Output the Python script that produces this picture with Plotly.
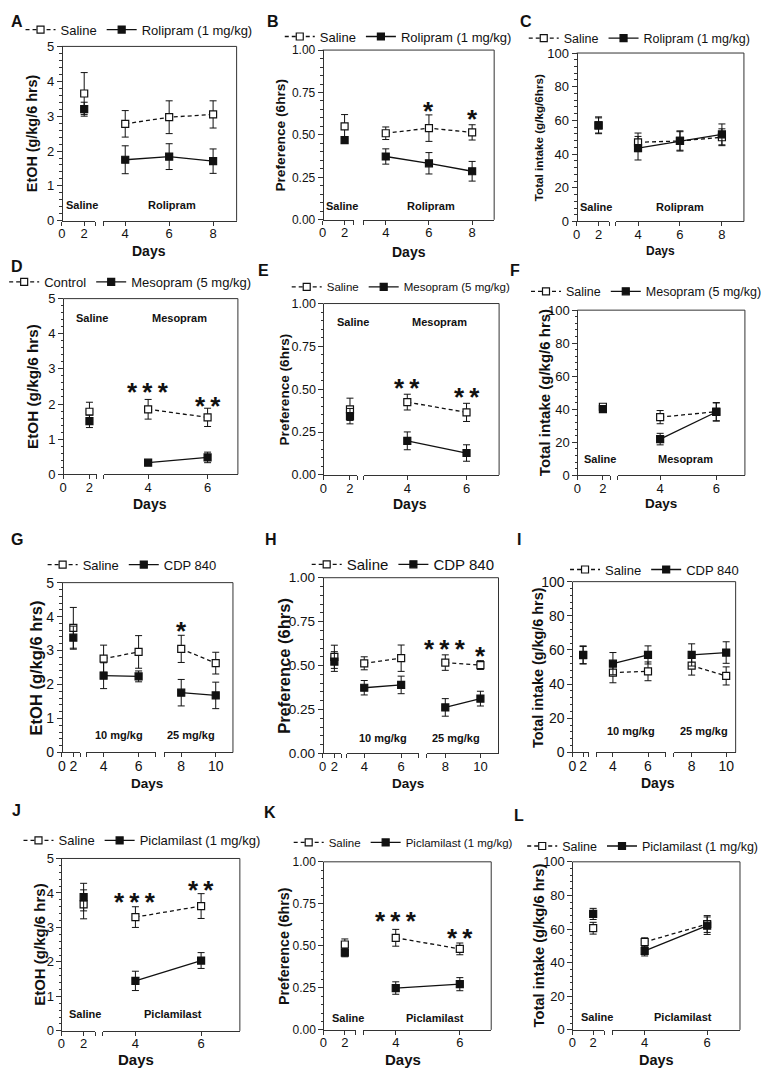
import plotly.graph_objects as go

W, H = 767, 1077
FONT = "Liberation Sans, Arial, sans-serif"
INK = "#111111"
FRAME = "#333333"

# ---------------- data: group means and SEM ----------------
days_rol = [2, 4, 6, 8]
rol_etoh_sal = [3.65, 2.78, 2.97, 3.05]
rol_etoh_sal_sem = [0.60, 0.38, 0.47, 0.39]
rol_etoh_drug = [3.20, 1.75, 1.84, 1.71]
rol_etoh_drug_sem = [0.20, 0.40, 0.37, 0.35]

rol_pref_sal = [0.55, 0.51, 0.54, 0.515]
rol_pref_sal_sem = [0.07, 0.037, 0.078, 0.045]
rol_pref_drug = [0.47, 0.373, 0.333, 0.286]
rol_pref_drug_sem = [0.02, 0.045, 0.063, 0.058]

rol_tot_sal = [57.0, 47.0, 47.8, 50.0]
rol_tot_sal_sem = [4.5, 5.5, 5.5, 5.0]
rol_tot_drug = [57.1, 43.5, 47.8, 51.7]
rol_tot_drug_sem = [5.0, 7.0, 6.0, 6.2]

days_mes = [2, 4, 6]
mes_etoh_sal = [1.78, 1.85, 1.62]
mes_etoh_sal_sem = [0.27, 0.28, 0.26]
mes_etoh_drug = [1.51, 0.33, 0.48]
mes_etoh_drug_sem = [0.18, 0.04, 0.15]

mes_pref_sal = [0.383, 0.425, 0.365]
mes_pref_sal_sem = [0.065, 0.046, 0.053]
mes_pref_drug = [0.343, 0.199, 0.128]
mes_pref_drug_sem = [0.045, 0.052, 0.048]

mes_tot_sal = [41.5, 35.2, 38.5]
mes_tot_sal_sem = [1.5, 4.0, 5.5]
mes_tot_drug = [40.0, 21.9, 38.3]
mes_tot_drug_sem = [1.5, 3.5, 5.5]

days_cdp = [2, 4, 6, 8, 10]
cdp_etoh_sal = [3.67, 2.76, 2.96, 3.05, 2.63]
cdp_etoh_sal_sem = [0.60, 0.40, 0.48, 0.40, 0.32]
cdp_etoh_drug = [3.38, 2.26, 2.24, 1.76, 1.68]
cdp_etoh_drug_sem = [0.34, 0.38, 0.16, 0.39, 0.39]

cdp_pref_sal = [0.55, 0.513, 0.542, 0.517, 0.503]
cdp_pref_sal_sem = [0.066, 0.037, 0.075, 0.044, 0.025]
cdp_pref_drug = [0.523, 0.374, 0.39, 0.262, 0.312]
cdp_pref_drug_sem = [0.056, 0.041, 0.05, 0.05, 0.042]

cdp_tot_sal = [57.0, 46.8, 47.5, 50.8, 44.8]
cdp_tot_sal_sem = [5.0, 6.0, 5.5, 5.5, 5.3]
cdp_tot_drug = [57.1, 52.0, 57.1, 57.1, 58.5]
cdp_tot_drug_sem = [5.3, 6.5, 5.3, 6.5, 6.3]

days_pic = [2, 4, 6]
pic_etoh_sal = [3.67, 3.30, 3.62]
pic_etoh_sal_sem = [0.42, 0.30, 0.36]
pic_etoh_drug = [3.88, 1.45, 2.04]
pic_etoh_drug_sem = [0.40, 0.28, 0.23]

pic_pref_sal = [0.508, 0.548, 0.482]
pic_pref_sal_sem = [0.033, 0.05, 0.035]
pic_pref_drug = [0.46, 0.249, 0.272]
pic_pref_drug_sem = [0.025, 0.037, 0.039]

pic_tot_sal = [60.5, 52.3, 63.0]
pic_tot_sal_sem = [3.5, 2.5, 5.0]
pic_tot_drug = [69.0, 47.0, 62.0]
pic_tot_drug_sem = [3.3, 3.0, 5.2]

ETOH = "EtOH (g/kg/6 hrs)"
PREF = "Preference (6hrs)"
TOT = "Total intake (g/kg/6 hrs)"
S3 = "*\u2009*\u2009*"
S2 = "*\u2009*"

# ---------------- panel layout (pixel geometry) ----------------
# segs: (range start, range end, px left, px right, labelled ticks)
panels = [
    dict(letter="A", lpos=(13, 14), box=(58.7, 236, 39, 216),
         segs=[(0, 3.0, 58.7, 92.7, [0, 2]), (3.0, 9.07, 100.7, 236, [4, 6, 8])],
         ymax=5, dtick=1, minor=0.2, fmt="", ytitle=ETOH, ytx=28, ysz=14.4, xt=(147, 247, 14), tsz=13,
         days=days_rol, ctrl=(rol_etoh_sal, rol_etoh_sal_sem), drug=(rol_etoh_drug, rol_etoh_drug_sem),
         names=("Saline", "Rolipram (1 mg/kg)"), leg=(137, 22, 13),
         labels=[("Saline", 79, 200), ("Rolipram", 170, 200)], stars=[]),
    dict(letter="B", lpos=(273, 14), box=(323.3, 497.3, 42.7, 215),
         segs=[(0, 2.85, 323.3, 355, [0, 2]), (2.95, 9.02, 364.3, 497.3, [4, 6, 8])],
         ymax=1, dtick=0.25, minor=0.05, fmt=".2f", ytitle=PREF, ytx=280.7, ysz=13.7, xt=(411, 248, 14), tsz=12,
         days=days_rol, ctrl=(rol_pref_sal, rol_pref_sal_sem), drug=(rol_pref_drug, rol_pref_drug_sem),
         names=("Saline", "Rolipram (1 mg/kg)"), leg=(400, 29, 13),
         labels=[("Saline", 343.3, 201), ("Rolipram", 433.3, 201)],
         stars=[(6, 0.677, "*"), (8, 0.629, "*")]),
    dict(letter="C", lpos=(530, 14), box=(581, 750.7, 45.7, 216.7),
         segs=[(0, 3.0, 581, 614.3, [0, 2]), (2.94, 9.05, 620.7, 750.7, [4, 6, 8])],
         ymax=100, dtick=20, minor=4, fmt="", ytitle="Total intake (g/kg/6hrs)", ytx=541.7, ysz=11.7,
         xt=(666, 247, 12), tsz=13,
         days=days_rol, ctrl=(rol_tot_sal, rol_tot_sal_sem), drug=(rol_tot_drug, rol_tot_drug_sem),
         names=("Saline", "Rolipram (1 mg/kg)"), leg=(645, 31, 12.5),
         labels=[("Saline", 600.7, 201.7), ("Rolipram", 685.7, 201.7)], stars=[]),
    dict(letter="D", lpos=(13, 262), box=(60, 237.3, 295, 473.3),
         segs=[(0, 2.57, 60, 94.3, [0, 2]), (2.5, 7.02, 101, 237.3, [4, 6])],
         ymax=5, dtick=1, minor=0.2, fmt="", ytitle=ETOH, ytx=29, ysz=15.3, xt=(148, 503, 14), tsz=13,
         days=days_mes, ctrl=(mes_etoh_sal, mes_etoh_sal_sem), drug=(mes_etoh_drug, mes_etoh_drug_sem),
         names=("Control", "Mesopram (5 mg/kg)"), leg=(128, 278, 13),
         labels=[("Saline", 89.3, 314.3), ("Mesopram", 178.3, 314.3)],
         stars=[(4, 2.50, S3), (6, 2.10, S2)]),
    dict(letter="E", lpos=(263, 266), box=(324, 502.3, 300, 474),
         segs=[(0, 2.54, 324, 358.3, [0, 2]), (2.53, 7.1, 365, 502.3, [4, 6])],
         ymax=1, dtick=0.25, minor=0.05, fmt=".2f", ytitle=PREF, ytx=284.3, ysz=13.6, xt=(411.7, 503, 14),
         tsz=12.5,
         days=days_mes, ctrl=(mes_pref_sal, mes_pref_sal_sem), drug=(mes_pref_drug, mes_pref_drug_sem),
         names=("Saline", "Mesopram (5 mg/kg)"), leg=(403, 283, 11.5),
         labels=[("Saline", 354, 318.3), ("Mesopram", 442.3, 318.3)],
         stars=[(4, 0.54, S2), (6, 0.489, S2)]),
    dict(letter="F", lpos=(518, 266), box=(581.7, 751.7, 306.7, 474.3),
         segs=[(0, 2.57, 581.7, 615, [0, 2]), (2.49, 7.02, 622.7, 751.7, [4, 6])],
         ymax=100, dtick=20, minor=4, fmt="", ytitle=TOT, ytx=548.3, ysz=15, xt=(666.7, 503, 13.5), tsz=13,
         days=days_mes, ctrl=(mes_tot_sal, mes_tot_sal_sem), drug=(mes_tot_drug, mes_tot_drug_sem),
         names=("Saline", "Mesopram (5 mg/kg)"), leg=(652, 288, 12.5),
         labels=[("Saline", 605, 457.3), ("Mesopram", 691.7, 457.3)], stars=[]),
    dict(letter="G", lpos=(13, 540), box=(58.7, 232.3, 583.3, 755.7),
         segs=[(0, 3.2, 58.7, 77.3, [0, 2]), (3, 7, 83.3, 154.3, [4, 6]), (7, 11, 162.3, 232.3, [8, 10])],
         ymax=5, dtick=1, minor=0.2, fmt="", ytitle=ETOH, ytx=32.3, ysz=16.5, xt=(145, 787, 13.5), tsz=14,
         days=days_cdp, ctrl=(cdp_etoh_sal, cdp_etoh_sal_sem), drug=(cdp_etoh_drug, cdp_etoh_drug_sem),
         names=("Saline", "CDP 840"), leg=(130, 565, 13),
         labels=[("10 mg/kg", 116.7, 738.3), ("25 mg/kg", 190, 738.3)],
         stars=[(8, 3.76, "*")]),
    dict(letter="H", lpos=(271, 540), box=(323.3, 501.7, 578.3, 756.7),
         segs=[(0, 3.2, 323.3, 342.3, [0, 2]), (3.05, 6.95, 347.7, 420.7, [4, 6]),
               (6.95, 11.03, 429, 501.7, [8, 10])],
         ymax=1, dtick=0.25, minor=0.05, fmt=".2f", ytitle=PREF, ytx=283.3, ysz=16.5, xt=(410, 787, 13.5),
         tsz=13.5,
         days=days_cdp, ctrl=(cdp_pref_sal, cdp_pref_sal_sem), drug=(cdp_pref_drug, cdp_pref_drug_sem),
         names=("Saline", "CDP 840"), leg=(405, 565, 15),
         labels=[("10 mg/kg", 384.3, 741), ("25 mg/kg", 458.3, 741)],
         stars=[(8, 0.626, S3), (10, 0.589, "*")]),
    dict(letter="I", lpos=(523, 540), box=(576.7, 742.3, 582.3, 755.7),
         segs=[(0, 3.06, 576.7, 593.3, [0, 2]), (3.04, 7.03, 600.7, 671.7, [4, 6]),
               (6.95, 10.55, 679.3, 742.3, [8, 10])],
         ymax=100, dtick=20, minor=4, fmt="", ytitle=TOT, ytx=541.7, ysz=14.4, xt=(663.3, 787, 14), tsz=14,
         days=days_cdp, ctrl=(cdp_tot_sal, cdp_tot_sal_sem), drug=(cdp_tot_drug, cdp_tot_drug_sem),
         names=("Saline", "CDP 840"), leg=(660, 570, 13),
         labels=[("10 mg/kg", 635.7, 734.3), ("25 mg/kg", 710, 734.3)], stars=[]),
    dict(letter="J", lpos=(13, 815), box=(58.3, 239.3, 863.3, 1038.3),
         segs=[(0, 3.06, 58.3, 92.7, [0, 2]), (3.0, 7.18, 100, 239.3, [4, 6])],
         ymax=5, dtick=1, minor=0.2, fmt="", ytitle=ETOH, ytx=35.7, ysz=15, xt=(134, 1067.5, 15), tsz=13,
         days=days_pic, ctrl=(pic_etoh_sal, pic_etoh_sal_sem), drug=(pic_etoh_drug, pic_etoh_drug_sem),
         names=("Saline", "Piclamilast (1 mg/kg)"), leg=(140, 845, 13),
         labels=[("Saline", 82.3, 1021), ("Piclamilast", 171.7, 1021)],
         stars=[(4, 3.90, S3), (6, 4.26, S2)]),
    dict(letter="K", lpos=(270, 817), box=(324, 494.3, 866.7, 1037.3),
         segs=[(0, 3.0, 324, 356.7, [0, 2]), (2.98, 6.98, 364.3, 494.3, [4, 6])],
         ymax=1, dtick=0.25, minor=0.05, fmt=".2f", ytitle=PREF, ytx=284.3, ysz=14.3, xt=(405, 1067.5, 15),
         tsz=12,
         days=days_pic, ctrl=(pic_pref_sal, pic_pref_sal_sem), drug=(pic_pref_drug, pic_pref_drug_sem),
         names=("Saline", "Piclamilast (1 mg/kg)"), leg=(405, 847, 11.5),
         labels=[("Saline", 349.3, 1025), ("Piclamilast", 437.7, 1025)],
         stars=[(4, 0.683, S3), (6, 0.584, S2)]),
    dict(letter="L", lpos=(523, 820), box=(576.7, 746.7, 866.7, 1037.3),
         segs=[(0, 3.07, 576.7, 609, [0, 2]), (2.95, 7.05, 616.7, 746.7, [4, 6])],
         ymax=100, dtick=20, minor=4, fmt="", ytitle=TOT, ytx=542.3, ysz=14.7, xt=(661.7, 1067.5, 14.5),
         tsz=13,
         days=days_pic, ctrl=(pic_tot_sal, pic_tot_sal_sem), drug=(pic_tot_drug, pic_tot_drug_sem),
         names=("Saline", "Piclamilast (1 mg/kg)"), leg=(648, 851, 12.5),
         labels=[("Saline", 601.7, 1024), ("Piclamilast", 689, 1024)], stars=[]),
]


def fx(p):
    return p / W


def fy(p):
    return 1 - p / H


def note(text, x, y, size, bold=True, angle=0):
    t = f"<b>{text}</b>" if bold else text
    return dict(text=t, x=fx(x), y=fy(y), xref="paper", yref="paper", showarrow=False,
                xanchor="center", yanchor="middle", textangle=angle,
                font=dict(family=FONT, size=size, color=INK))


fig = go.Figure()
layout = dict(width=W, height=H, margin=dict(l=0, r=0, t=0, b=0),
              plot_bgcolor="white", paper_bgcolor="white",
              font=dict(family=FONT, color=INK), showlegend=True)
annotations = []
shapes = []

xi = 0
for k, p in enumerate(panels, start=1):
    ykey = "yaxis" if k == 1 else f"yaxis{k}"
    yref = "y" if k == 1 else f"y{k}"
    lkey = "legend" if k == 1 else f"legend{k}"
    left, right, top, bottom = p["box"]

    layout[ykey] = dict(domain=[fy(bottom), fy(top)], range=[0, p["ymax"]], anchor="free",
                        position=fx(left), showline=True, linecolor=FRAME, linewidth=1,
                        ticks="outside", ticklen=5, tickcolor=FRAME, dtick=p["dtick"],
                        tickformat=p["fmt"], showgrid=False, zeroline=False,
                        tickfont=dict(size=p["tsz"], color=INK),
                        minor=dict(dtick=p["minor"], ticks="outside", ticklen=2.5,
                                   tickcolor=FRAME, showgrid=False))

    segrefs = []
    n = len(p["segs"])
    for s, (r0, r1, p0, p1, lab) in enumerate(p["segs"]):
        xi += 1
        xkey = "xaxis" if xi == 1 else f"xaxis{xi}"
        xref = "x" if xi == 1 else f"x{xi}"
        vals = list(lab)
        text = [str(v) for v in lab]
        if s > 0:
            vals.insert(0, r0 + 0.005)
            text.insert(0, "")
        if s < n - 1:
            vals.append(r1 - 0.005)
            text.append("")
        layout[xkey] = dict(domain=[fx(p0), fx(p1)], range=[r0, r1], anchor=yref,
                            showline=True, linecolor=FRAME, linewidth=1,
                            ticks="outside", ticklen=4, tickcolor=FRAME,
                            tickmode="array", tickvals=vals, ticktext=text,
                            ticklabelstandoff=-3,
                            showgrid=False, zeroline=False,
                            tickfont=dict(size=13 if p["tsz"] < 14 else 14, color=INK))
        segrefs.append((r0, r1, xref))

    # control (open squares, dashed) then drug (filled squares, solid)
    for sidx, (vals, sem) in enumerate([p["ctrl"], p["drug"]]):
        name = p["names"][sidx]
        for s, (r0, r1, xref) in enumerate(segrefs):
            idx = [j for j, d in enumerate(p["days"]) if r0 < d < r1]
            if not idx:
                continue
            fig.add_trace(go.Scatter(
                x=[p["days"][j] for j in idx], y=[vals[j] for j in idx],
                error_y=dict(type="data", array=[sem[j] for j in idx], color=INK,
                             thickness=1, width=3.5),
                mode="lines+markers", name=name, legend=lkey,
                legendgroup=f"{k}-{sidx}", showlegend=(s == 1),
                line=dict(color=INK, width=1.3, dash="4px,3px" if sidx == 0 else "solid"),
                marker=dict(symbol="square", size=7, color="white" if sidx == 0 else INK,
                            line=dict(color=INK, width=1.2)),
                xaxis=xref, yaxis=yref, cliponaxis=False))

    lx, ly, lsz = p["leg"]
    layout[lkey] = dict(x=fx(lx), y=fy(ly), xanchor="center", yanchor="middle",
                        orientation="h", bgcolor="rgba(0,0,0,0)", traceorder="normal",
                        font=dict(family=FONT, size=lsz, color=INK), itemwidth=30)

    # frame: top and right edges
    shapes.append(dict(type="line", xref="paper", yref="paper", x0=fx(left), x1=fx(right),
                       y0=fy(top), y1=fy(top), line=dict(color=FRAME, width=1)))
    shapes.append(dict(type="line", xref="paper", yref="paper", x0=fx(right), x1=fx(right),
                       y0=fy(top), y1=fy(bottom), line=dict(color=FRAME, width=1)))

    annotations.append(note(p["letter"], p["lpos"][0], p["lpos"][1], 16))
    annotations.append(note(p["ytitle"], p["ytx"], (top + bottom) / 2, p["ysz"], angle=-90))
    annotations.append(note("Days", p["xt"][0], p["xt"][1], p["xt"][2]))
    for txt, x, y in p["labels"]:
        annotations.append(note(txt, x, y, 11))
    for day, yv, txt in p["stars"]:
        xref = next(r for r0, r1, r in segrefs if r0 < day < r1)
        annotations.append(dict(text=f"<b>{txt}</b>", x=day, y=yv, xref=xref, yref=yref,
                                showarrow=False, xanchor="center", yanchor="middle", yshift=-6,
                                font=dict(family=FONT, size=26, color=INK)))

layout["annotations"] = annotations
layout["shapes"] = shapes
fig.update_layout(**layout)

fig.write_html("out.html", config={"displayModeBar": False},
               post_script="document.body.style.margin='0';")
